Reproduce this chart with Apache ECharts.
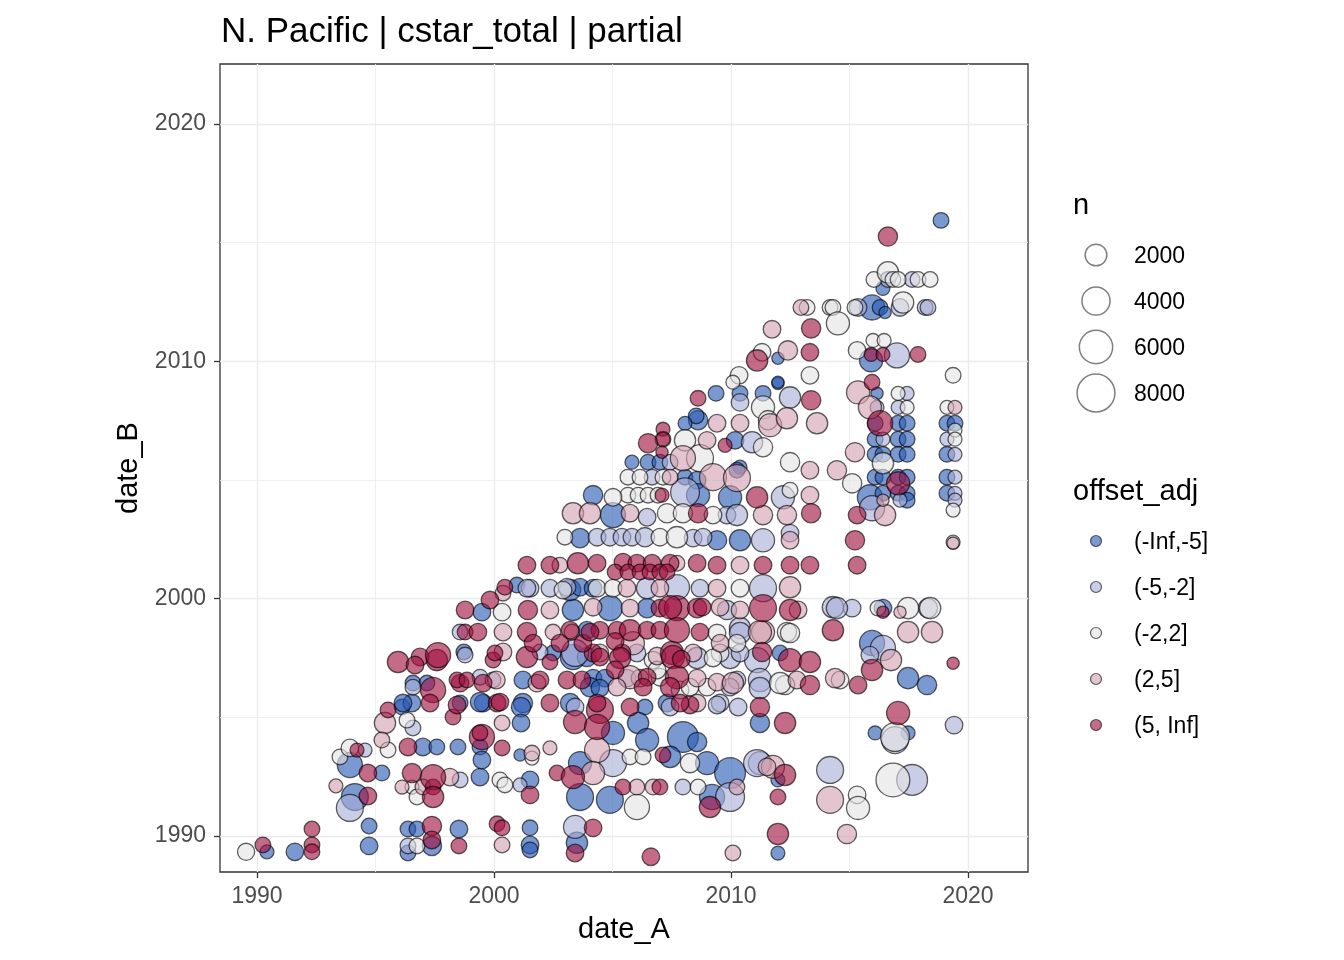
<!DOCTYPE html>
<html>
<head>
<meta charset="utf-8">
<script src="https://cdn.jsdelivr.net/npm/echarts@6/dist/echarts.min.js"></script>
<style>
html,body{margin:0;padding:0;background:#fff;}
#chart{width:1344px;height:960px;}
</style>
</head>
<body>
<div id="chart"></div>
<script>
const chartTitle = 'N. Pacific | cstar_total | partial';
const categories = ['(-Inf,-5]', '(-5,-2]', '(-2,2]', '(2,5]', '(5, Inf]'];
const categoryColors = ['#2a5ab5', '#a9aed6', '#e4e4e4', '#d4a0b0', '#a0103f'];
const sizeBreaks = [2000, 4000, 6000, 8000];
const xTicks = [1990, 2000, 2010, 2020];
const yTicks = [1990, 2000, 2010, 2020];
const xMinorTicks = [1995, 2005, 2015];
const yMinorTicks = [1995, 2005, 2015];

// [date_A, date_B, n]
const ptsNegInf = [
[1990.42,1989.33,300],[1991.60,1989.33,1000],[1994.73,1990.42,600],[1994.73,1989.58,1000],[1996.37,1990.29,600],[1996.75,1990.29,600],[1998.52,1990.29,1000],[1997.38,1989.58,1400],[1996.37,1989.28,600],[1994.13,1991.64,3600],[1995.27,1992.65,600],[1993.92,1992.99,3000],[1996.12,1995.43,600],[1996.54,1995.60,1000],[1997.00,1993.75,1000],[1997.59,1993.75,600],[1998.48,1993.75,600],[1999.41,1993.75,600],[1999.41,1992.48,1000],[1999.49,1993.20,1000],[1996.58,1996.44,600],[1997.17,1996.44,600],[1998.57,1995.60,600],[1999.54,1995.60,1000],[1996.16,1995.60,1000],[1999.41,1995.64,1400],[2001.22,1995.60,1400],[2003.21,1995.60,1400],[1998.73,1997.75,600],[2003.33,1997.54,3000],[2001.22,1996.57,1000],[1999.49,1999.43,1000],[2003.33,1999.52,1900],[2003.21,2000.36,1900],[2000.97,2000.57,600],[2004.89,1999.60,3000],[2006.46,1999.60,1400],[2003.63,2000.48,1000],[2004.18,2000.44,1000],[2004.18,2004.36,1400],[2005.02,2003.52,3000],[2003.63,2002.55,1400],[2003.92,1998.67,1000],[2009.37,2008.65,600],[2010.38,2008.65,600],[2011.35,2008.65,600],[2011.98,2009.07,0],[2008.61,2007.52,1400],[2008.53,2007.70,600],[2008.06,2007.39,275],[2010.17,2006.67,1000],[2005.82,2005.75,275],[2006.50,2005.75,600],[2007.00,2005.75,600],[2008.06,2005.12,600],[2008.57,2004.99,1000],[2010.38,2005.54,275],[2008.61,2004.36,2400],[2009.96,2004.27,2400],[2009.41,2002.46,1400],[2010.38,2002.46,1900],[2018.86,2015.94,600],[2016.41,2013.07,275],[2015.95,2012.27,3000],[2016.29,2012.27,600],[2016.50,2012.06,0],[2011.98,2010.13,0],[2015.91,2010.04,2400],[2011.98,2009.12,0],[2016.16,2008.65,0],
[2016.08,2007.39,600],[2017.05,2007.39,600],[2017.43,2007.39,600],[2019.11,2007.39,600],[2019.45,2007.39,600],
[2016.08,2006.72,600],[2017.05,2006.72,600],[2017.43,2006.72,600],
[2016.08,2006.08,600],[2016.41,2006.08,600],[2017.05,2006.08,600],[2017.43,2006.08,600],[2019.11,2006.08,600],
[2016.08,2005.12,600],[2016.41,2005.12,600],[2017.05,2005.12,600],[2017.43,2005.12,600],[2019.11,2005.12,600],
[2015.86,2004.27,3000],[2016.41,2004.44,600],[2017.05,2004.44,600],[2017.43,2004.44,600],[2017.43,2004.15,600],[2019.11,2004.44,600],
[2010.25,2005.41,600],[2016.41,1999.60,1000],[2015.95,1998.13,3000],[2012.07,1997.71,600],[2017.47,1996.65,1900],[2018.27,1996.36,1400],[2016.08,1994.34,275],[2017.47,1994.34,275],[2011.98,1992.36,275],[2011.98,1989.28,275],
[2001.14,1995.43,1400],[2001.14,1994.76,1000],[2006.37,1995.43,600],[2006.08,1994.76,1900],[2011.22,1994.76,1400],[2005.02,1994.34,2400],[2006.46,1994.04,2400],[2007.97,1994.17,5000],[2008.57,1993.96,1400],[2007.43,1993.33,1900],[2001.10,1993.41,0],[2003.63,1993.07,2400],[2008.99,1993.07,2400],[2009.96,1992.65,5000],[2001.52,1992.36,1000],[2003.63,1991.64,3600],[2004.89,1991.52,3600],[2009.20,1991.64,3000],[2001.52,1990.34,600],[2001.52,1989.62,1000],[2001.52,1989.41,600],[2003.50,1989.71,1900],[2002.49,1997.71,600],[2004.18,1996.65,1000],[2004.68,1996.65,1000],[2007.30,1995.60,1000],[2003.92,1997.54,1400],
[2004.05,1996.27,1400],[2004.47,1996.23,1000]
];
const ptsNeg5 = [
[1993.92,1991.18,3600],[1994.56,1993.62,275],[1996.58,1994.55,600],[1998.57,1992.36,600],[1996.58,1996.27,600],[1999.41,1996.69,600],[1999.96,1996.57,600],[2001.94,1997.75,600],[1998.78,1997.62,600],[2001.52,2000.44,1000],[2002.36,2000.44,1000],[2003.08,2000.48,1000],[1998.57,1998.59,600],[2012.49,2008.48,1900],[2010.38,2008.27,1000],[2010.89,2006.59,1900],[2007.43,2005.75,600],[2006.67,2005.12,600],[2008.06,2004.48,4275],[2012.19,2004.27,2400],[2006.46,2003.43,1000],[2009.83,2003.52,1000],[2010.25,2003.52,1900],[2004.35,2002.59,1000],[2004.89,2002.59,1000],[2005.40,2002.59,1000],[2005.82,2002.59,1000],[2006.37,2002.59,1400],[2008.40,2002.55,1000],[2008.82,2002.59,1000],[2011.35,2002.46,2400],[2012.49,2002.76,1000],[2006.46,2000.44,1900],[2007.72,2000.48,3000],[2008.69,2000.44,1000],[2011.35,2000.44,3600],[2009.83,1999.52,1400],[2010.38,1998.76,1900],[2014.30,1999.64,1900],[2008.57,1997.50,1900],[2009.96,1997.50,1900],[2011.10,1997.41,3000],[2005.61,1996.65,1000],[2011.22,1996.57,2400],[2011.22,1996.23,1900],[2009.54,1995.60,1000],[2016.62,2013.45,600],[2017.64,2013.45,600],[2015.36,2012.27,1000],[2017.13,2012.27,1000],[2018.19,2012.27,600],[2018.31,2012.27,600],[2017.00,2010.25,3000],[2017.43,2008.65,275],[2016.16,2008.06,275],[2017.05,2008.06,275],[2016.41,2006.72,275],[2019.11,2006.72,275],[2019.45,2006.08,275],[2019.45,2005.12,275],[2015.95,2003.81,3000],[2017.13,2004.15,275],[2019.45,2004.44,275],[2019.45,2004.15,275],[2015.11,1999.60,1000],[2018.31,1999.60,1400],[2014.47,1999.60,1900],[2016.41,1997.92,3000],[2015.86,1997.62,1000],[2016.92,1994.04,3600],[2019.41,1994.67,1000],[2011.22,1993.07,2400],[2014.18,1992.78,3600],[2017.64,1992.36,5000],[2003.42,1995.43,1000],[2007.43,1995.43,1000],[2009.41,1995.52,1000],[2010.30,1995.43,1000],[2005.02,1993.07,3600],[2011.10,1993.07,3600],[2001.10,1992.15,275],[2007.97,1992.06,600],[2009.96,1991.64,4275],[2003.42,1990.38,2400],[2003.42,1997.71,3600],[2006.03,1997.71,1000],[2010.38,1997.71,1000],[2010.25,1996.57,1000],[1996.37,1989.58,600],
[2010.38,1998.55,1900],[2009.96,1996.27,1000],[2001.39,2000.44,1000]
];
const ptsNeutral = [
[1989.54,1989.33,900],[1996.75,1989.58,600],[1993.50,1993.33,600],[1993.92,1993.71,1000],[1995.53,1993.62,600],[1996.54,1992.06,275],[1996.33,1994.88,600],[1996.75,1991.64,600],[2000.34,1999.43,1000],[2002.91,2000.36,1000],[2004.35,2000.44,1000],[2005.02,2000.44,1000],[2010.38,2000.44,1000],[2012.36,1998.59,1400],[2011.35,2008.06,2400],[2008.06,2006.67,1900],[2011.35,2006.38,1400],[2011.56,2007.52,1400],[2008.69,2005.92,3600],[2005.65,2005.12,600],[2006.16,2005.12,600],[2007.13,2005.12,600],[2012.49,2005.75,1400],[2005.65,2004.36,600],[2006.08,2004.36,600],[2006.50,2004.36,600],[2006.92,2004.36,600],[2005.02,2004.27,1000],[2007.30,2003.60,1400],[2007.97,2003.60,1400],[2009.24,2003.52,1000],[2002.99,2002.59,600],[2007.00,2002.59,1000],[2007.72,2002.59,1900],[2012.49,2004.57,600],[2016.03,2013.45,600],[2016.62,2013.75,1900],[2016.83,2013.45,600],[2017.05,2013.45,600],[2017.89,2013.45,600],[2018.40,2013.45,600],[2013.21,2012.27,600],[2014.18,2012.27,600],[2014.30,2012.27,600],[2015.23,2012.27,600],[2017.26,2012.48,1900],[2014.51,2011.60,2400],[2011.31,2010.38,1000],[2015.99,2010.88,275],[2016.46,2010.88,275],[2015.32,2010.46,1000],[2019.37,2009.41,600],[2010.34,2009.41,1000],[2010.08,2009.12,275],[2013.33,2009.41,1000],[2017.05,2008.65,275],[2017.43,2008.06,275],[2019.11,2008.06,275],[2019.45,2007.10,275],[2019.45,2006.72,275],[2016.41,2005.71,1900],[2015.11,2004.86,1400],[2019.37,2003.73,275],[2019.37,2002.38,275],[2016.20,1999.60,600],[2017.47,1999.60,1900],[2018.40,1999.60,1900],[2014.60,1996.57,1000],[2012.28,1996.36,1400],[2016.92,1994.17,4275],[2015.32,1991.73,1000],[2015.36,1991.18,2400],[2016.83,1992.36,6200],[2001.60,1993.28,275],[2005.74,1993.33,600],[2006.29,1993.33,600],[2008.27,1993.07,1400],[2000.25,1992.36,600],[2000.46,1992.15,600],[2006.03,1991.22,3000],[2008.61,1992.06,600],[2009.54,1997.71,1000],[2006.71,1997.41,1000],[2009.24,1997.50,1000],[2007.00,1996.69,1000],[2012.07,1996.44,1900],[2007.85,1996.15,1000],
[2009.41,1998.55,1000],[2006.88,1996.99,1000],[2010.25,1998.12,1000],[2008.99,1996.27,1000],[2008.27,1996.27,1000],[2012.49,1998.55,1400]
];
const ptsPos2 = [
[1993.33,1992.11,275],[1995.40,1994.76,1900],[1995.27,1994.04,600],[1996.12,1992.06,275],[1997.00,1992.06,600],[1998.14,1992.48,1000],[2000.38,1997.75,1000],[2001.81,1996.44,1000],[2000.38,1998.59,1000],[2002.36,1999.52,1000],[2003.29,1998.59,600],[2002.49,1998.59,600],[2000.38,2000.23,600],[2002.78,2001.41,600],[2003.33,2003.60,1900],[2004.05,2003.60,1900],[2005.74,2003.60,1000],[2009.41,2007.39,1000],[2010.38,2007.39,1000],[2011.65,2007.31,2400],[2012.36,2007.60,1900],[2013.63,2007.39,1900],[2007.13,2006.72,600],[2008.99,2006.67,1000],[2007.97,2005.92,3000],[2007.43,2005.12,600],[2009.24,2005.12,3600],[2010.25,2005.08,3600],[2013.33,2005.41,1000],[2014.47,2005.41,1400],[2013.33,2004.36,1000],[2011.35,2003.52,1400],[2012.36,2003.52,1400],[2012.49,2002.46,1000],[2007.72,2001.49,600],[2010.38,2001.41,1000],[2005.61,2000.44,1000],[2007.00,2000.44,1000],[2009.41,2000.44,1000],[2012.49,2000.48,1900],[2004.18,1999.64,1000],[2005.74,1999.60,1000],[2010.38,1999.52,1000],[2012.83,1999.52,1000],[2011.35,1998.59,2400],[2012.95,2012.27,600],[2011.73,2011.35,1000],[2012.40,2010.46,1400],[2015.36,2008.69,2400],[2015.86,2008.06,2400],[2019.45,2008.06,275],[2015.23,2006.17,1400],[2016.50,2003.52,1900],[2016.41,2004.15,0],[2019.37,2002.34,0],[2017.13,1999.43,0],[2017.47,1998.59,1900],[2018.48,1998.59,1900],[2016.75,1997.41,1900],[2014.39,1996.65,1400],[2011.77,1992.91,2400],[2014.18,1991.52,3600],[2014.89,1990.08,1400],[2000.34,1994.76,600],[2004.35,1993.62,3000],[2001.60,1993.49,600],[2002.36,1993.71,275],[2004.18,1992.65,2400],[2006.03,1992.06,600],[2006.71,1992.06,600],[2010.25,1992.06,600],[2011.52,1992.91,1000],[2000.34,1989.62,600],[2010.08,1989.28,600],[2004.47,1997.71,1000],[2008.40,1997.71,1000],[2000.10,1996.57,1000],[2006.16,1996.65,1000],[2008.57,1996.65,1000],[2009.41,1996.48,1000],[2010.08,1996.44,1900],[2012.78,1996.57,1000],[2005.74,1996.69,2400],[2008.57,1995.60,1000],
[2009.54,1999.64,1000],[2005.86,1998.12,2400],[2009.54,1998.12,1000],[2005.19,1996.27,1000],[2011.22,1998.59,2400],[2006.88,1997.58,1000]
];
const ptsPos5 = [
[1990.25,1989.62,600],[1992.32,1990.29,600],[1992.32,1989.62,600],[1992.32,1989.33,600],[1997.38,1990.42,1400],[2000.13,1990.51,600],[1998.52,1989.58,600],[1997.38,1989.83,1000],[1994.68,1991.68,1000],[1994.68,1992.65,1000],[1994.22,1993.62,275],[1995.53,1995.31,600],[1996.37,1993.75,1000],[1997.43,1992.06,600],[1996.54,1992.65,1400],[1997.43,1992.48,3000],[1997.43,1991.64,1900],[1999.49,1994.17,3000],[1997.43,1996.15,3000],[1997.59,1997.41,1900],[1996.88,1997.54,1000],[1998.57,1996.44,1000],[1999.54,1996.44,1000],[2000.13,1995.60,1000],[1998.27,1995.01,600],[1999.41,1994.34,600],[1997.64,1997.62,3000],[1998.78,1998.59,600],[1999.32,1998.59,1000],[2001.39,1998.59,1400],[2001.43,1999.52,1400],[1999.96,1997.41,600],[2001.39,1997.54,1900],[2002.36,1997.33,600],[1998.44,1996.57,600],[1998.86,1996.57,600],[2001.94,1996.57,1000],[2003.08,1996.57,1000],[2003.71,1996.57,1000],[1997.30,1995.60,1000],[1998.44,1995.52,1000],[2000.25,1995.64,1000],[2002.36,1995.60,1000],[2001.39,2001.41,1000],[2002.36,2001.41,1000],[2003.54,2001.49,1900],[2004.35,2001.49,1000],[2000.46,2000.48,600],[2005.44,2001.54,1000],[2006.03,2001.49,1000],[2006.67,2001.49,1000],[2007.43,2001.49,1000],[2008.57,2001.49,1000],[2009.41,2001.41,1000],[2011.35,2001.41,1000],[2012.49,2001.41,1000],[2013.33,2001.41,1000],[2015.32,2001.41,1000],[2005.11,2001.12,600],[2005.65,2001.12,600],[2006.16,2001.12,600],[2006.58,2001.12,600],[2007.00,2001.12,600],[2007.30,2001.12,600],[2007.00,1999.60,1000],[2007.72,1999.60,3000],[2008.57,1999.60,1400],[2011.35,1999.60,3600],[2012.49,1999.52,1900],[2003.21,1998.67,1000],[2004.47,1998.67,1000],[2005.19,1998.67,1000],[2005.74,1998.67,1900],[2006.46,1998.67,1000],[2007.00,1998.67,1000],[2007.72,1998.67,3000],[2008.69,1998.59,1000],[2014.30,1998.67,1900],[2008.61,2008.44,600],[2013.38,2008.36,1400],[2007.13,2007.14,275],[2007.13,2006.72,275],[2006.50,2006.55,1400],[2009.75,2006.46,275],[2007.09,2006.17,0],[2007.09,2004.36,275],[2011.10,2004.27,1900],[2008.61,2003.60,1400],[2013.38,2003.60,1400],[2016.62,2015.26,1400],[2013.38,2011.39,1400],[2013.33,2010.38,1000],[2011.10,2010.04,1900],[2015.91,2010.29,275],[2016.41,2010.29,275],[2017.89,2010.29,600],[2015.95,2009.12,600],[2016.29,2007.39,3000],[2017.05,2004.86,2400],[2015.32,2003.52,1000],[2015.23,2002.46,1400],[2016.41,1999.43,0],[2015.95,1996.99,1900],[2019.37,1997.28,0],[2012.49,1997.41,2400],[2013.33,1997.33,1900],[2011.31,1997.75,1400],[2013.33,1996.36,1400],[2015.36,1996.36,1000],[2017.05,1995.18,2400],[2011.22,1995.43,1400],[2012.28,1994.76,1900],[2012.28,1992.57,1900],[2011.98,1991.64,600],[2011.98,1990.08,1900],[2004.47,1995.31,3600],[2005.74,1995.43,1000],[2008.27,1995.52,1000],[2003.42,1994.80,2400],[2004.35,1994.59,3000],[2000.34,1993.71,600],[2007.13,1993.41,600],[2002.66,1992.65,600],[2003.33,1992.48,2400],[2001.52,1991.73,1000],[2005.44,1992.06,600],[2007.00,1992.06,600],[2009.11,1991.22,1900],[2000.34,1990.34,600],[2004.18,1990.34,1000],[2003.42,1989.28,1000],[2006.62,1989.12,1000],[2000.04,1997.71,600],[2004.18,1997.71,1000],[2005.40,1997.71,1000],[2007.51,1997.71,2400],[2001.65,1998.12,1000],[2002.78,1998.12,1000],[2003.75,1998.12,1000],[2005.11,1998.20,1000],[2005.32,1997.50,1900],[2007.55,1997.54,2400],[2006.46,1996.69,1000],[2007.72,1996.69,2400],[2004.35,1995.60,1000],[2007.85,1995.60,1000],[1995.95,1997.33,1900],[1996.67,1997.20,1000],[1998.78,1999.52,1000],[1999.83,1999.94,1000],
[2007.43,1999.64,2400],[2008.78,1999.64,1000],[2004.05,1998.59,1000],[2004.47,1997.54,1000],[2006.29,1996.27,1000],[2007.43,1996.27,1400],[2007.90,1997.45,1000],[2005.11,1997.00,1000]
];

const seriesPoints = [ptsNegInf, ptsNeg5, ptsNeutral, ptsPos2, ptsPos5];
const POINT_ALPHA = 0.62;
function sizeOf(n) { return Math.sqrt(150 + 0.16 * n); }
const FONT = '"Liberation Sans", Arial, Helvetica, sans-serif';

const chart = echarts.init(document.getElementById('chart'), null, {renderer: 'canvas'});

const graphics = [];
graphics.push({type: 'text', left: 1073, top: 191, style: {text: 'n', font: '29px ' + FONT, fill: '#000'}});
sizeBreaks.forEach((b, i) => {
  const cy = 255 + 46 * i;
  graphics.push({type: 'circle', shape: {cx: 1096, cy: cy, r: sizeOf(b) / 2}, style: {fill: 'none', stroke: 'rgba(0,0,0,0.5)', lineWidth: 1.5}});
  graphics.push({type: 'text', x: 1134, y: cy + 2, style: {text: String(b), font: '23px ' + FONT, fill: '#000', verticalAlign: 'middle'}});
});
graphics.push({type: 'text', left: 1073, top: 477, style: {text: 'offset_adj', font: '29px ' + FONT, fill: '#000'}});
categories.forEach((c, i) => {
  const cy = 541 + 46 * i;
  graphics.push({type: 'circle', shape: {cx: 1096, cy: cy, r: 5.5}, style: {fill: categoryColors[i], stroke: '#000', lineWidth: 1.2, opacity: POINT_ALPHA}});
  graphics.push({type: 'text', x: 1134, y: cy + 2, style: {text: c, font: '23px ' + FONT, fill: '#000', verticalAlign: 'middle'}});
});

const XMIN = 1988.44, XMAX = 2022.53, YMIN = 1988.48, YMAX = 2022.53;
const plainYear = v => String(Math.round(v));

const option = {
  animation: false,
  backgroundColor: '#fff',
  title: {text: chartTitle, left: 216, top: 10, textStyle: {fontSize: 35, fontWeight: 'normal', color: '#000', fontFamily: FONT}},
  grid: {left: 220, top: 64, width: 808, height: 808, show: true, borderColor: '#333', borderWidth: 1.3, backgroundColor: '#fff'},
  xAxis: [
    {type: 'value', min: XMIN, max: XMAX,
     axisLine: {show: false},
     axisTick: {show: true, length: 6, lineStyle: {color: '#333', width: 1.3}, customValues: xTicks},
     axisLabel: {customValues: xTicks, formatter: plainYear, fontSize: 23, color: '#4d4d4d', margin: 13, fontFamily: FONT},
     splitLine: {show: true, lineStyle: {color: '#ebebeb', width: 1.4}},
     name: 'date_A', nameLocation: 'middle', nameGap: 58,
     nameTextStyle: {fontSize: 29, color: '#000', fontFamily: FONT, verticalAlign: 'middle'}},
    {type: 'value', min: XMIN, max: XMAX,
     axisLine: {show: false},
     axisTick: {show: false, customValues: xMinorTicks},
     axisLabel: {show: false, customValues: xMinorTicks},
     splitLine: {show: true, lineStyle: {color: '#ebebeb', width: 0.8}}}
  ],
  yAxis: [
    {type: 'value', min: YMIN, max: YMAX,
     axisLine: {show: false},
     axisTick: {show: true, length: 6, lineStyle: {color: '#333', width: 1.3}, customValues: yTicks},
     axisLabel: {customValues: yTicks, formatter: plainYear, fontSize: 23, color: '#4d4d4d', margin: 14, fontFamily: FONT},
     splitLine: {show: true, lineStyle: {color: '#ebebeb', width: 1.4}},
     name: 'date_B', nameLocation: 'middle', nameGap: 90, nameRotate: 90,
     nameTextStyle: {fontSize: 29, color: '#000', fontFamily: FONT, verticalAlign: 'middle'}},
    {type: 'value', min: YMIN, max: YMAX,
     axisLine: {show: false},
     axisTick: {show: false, customValues: yMinorTicks},
     axisLabel: {show: false, customValues: yMinorTicks},
     splitLine: {show: true, lineStyle: {color: '#ebebeb', width: 0.8}}}
  ],
  series: seriesPoints.map((pts, i) => ({
    name: categories[i],
    type: 'scatter',
    xAxisIndex: 0, yAxisIndex: 0,
    data: pts,
    symbol: 'circle',
    symbolSize: v => sizeOf(v[2]),
    itemStyle: {color: categoryColors[i], borderColor: '#000', borderWidth: 1.3, opacity: POINT_ALPHA},
    emphasis: {disabled: true}
  })),
  graphic: graphics
};
chart.setOption(option);
</script>
</body>
</html>
